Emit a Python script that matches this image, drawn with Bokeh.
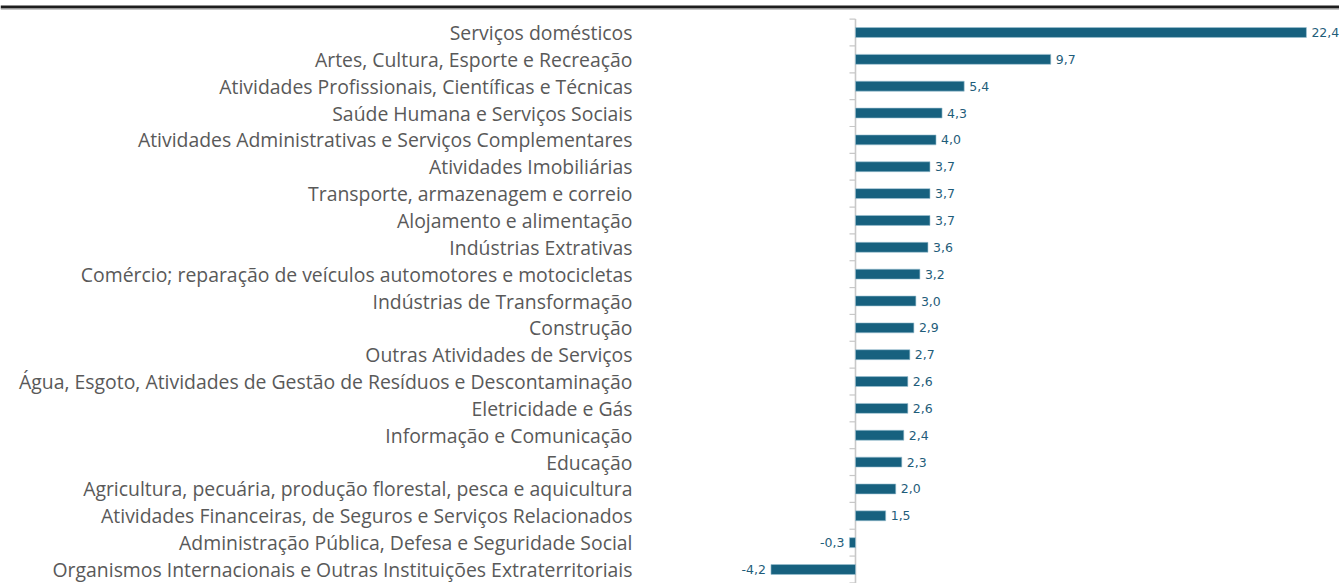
from bokeh.plotting import figure
from bokeh.models import Range1d, Span, ColumnDataSource
from bokeh.core.properties import value
from bokeh.embed import file_html
from bokeh.resources import INLINE

categories = [
    "Serviços domésticos",
    "Artes, Cultura, Esporte e Recreação",
    "Atividades Profissionais, Científicas e Técnicas",
    "Saúde Humana e Serviços Sociais",
    "Atividades Administrativas e Serviços Complementares",
    "Atividades Imobiliárias",
    "Transporte, armazenagem e correio",
    "Alojamento e alimentação",
    "Indústrias Extrativas",
    "Comércio; reparação de veículos automotores e motocicletas",
    "Indústrias de Transformação",
    "Construção",
    "Outras Atividades de Serviços",
    "Água, Esgoto, Atividades de Gestão de Resíduos e Descontaminação",
    "Eletricidade e Gás",
    "Informação e Comunicação",
    "Educação",
    "Agricultura, pecuária, produção florestal, pesca e aquicultura",
    "Atividades Financeiras, de Seguros e Serviços Relacionados",
    "Administração Pública, Defesa e Seguridade Social",
    "Organismos Internacionais e Outras Instituições Extraterritoriais",
]
values = [22.4, 9.7, 5.4, 4.3, 4.0, 3.7, 3.7, 3.7, 3.6, 3.2, 3.0, 2.9, 2.7, 2.6, 2.6, 2.4, 2.3, 2.0, 1.5, -0.3, -4.2]

W, H = 1339, 583
zero_px = 855.0          # zero line position inside the figure
px_per_unit = 20.13
row_px = 26.85
first_row_px = 32.0

x_start = -zero_px / px_per_unit
x_end = (W - zero_px) / px_per_unit
y_top = -first_row_px / row_px
y_bottom = (H - first_row_px) / row_px

n = len(categories)
idx = list(range(n))
labels = [f"{v:.1f}".replace(".", ",") for v in values]
pos_idx = [i for i in idx if values[i] >= 0]
neg_idx = [i for i in idx if values[i] < 0]

src = ColumnDataSource(dict(y=idx, v=values, cat=categories, zero=[0] * n))
src_pos = ColumnDataSource(dict(y=pos_idx, v=[values[i] for i in pos_idx], lab=[labels[i] for i in pos_idx]))
src_neg = ColumnDataSource(dict(y=neg_idx, v=[values[i] for i in neg_idx], lab=[labels[i] for i in neg_idx]))

p = figure(width=W, height=H, output_backend="svg", toolbar_location=None,
           x_range=Range1d(x_start, x_end), y_range=Range1d(y_bottom, y_top),
           min_border=0, min_border_left=0, min_border_right=0, min_border_top=0, min_border_bottom=0)
p.axis.visible = False
p.grid.visible = False
p.outline_line_color = None
p.background_fill_color = "white"
p.border_fill_color = "white"

# top rule
p.add_layout(Span(location=y_top + 6.5 / row_px, dimension="width", line_color="#1e1e1e", line_width=3.2))
p.add_layout(Span(location=y_top + 8.6 / row_px, dimension="width", line_color="#a0a0a0", line_width=1))

# axis line and ticks
bounds = [i - 0.5 for i in range(n + 1)]
tick_len = 6.0 / px_per_unit
p.segment(x0=[0] * len(bounds), y0=bounds, x1=[-tick_len] * len(bounds), y1=bounds,
          line_color="#c8c8c8", line_width=1.2)
p.segment(x0=[0], y0=[-0.5], x1=[0], y1=[n - 0.5], line_color="#c8c8c8", line_width=1.6)

# bars
p.hbar(y="y", left=0, right="v", height=0.37, source=src,
       fill_color="#17617f", line_color="#9ec3d3", line_width=0.6)

# value labels
p.text(x="v", y="y", text="lab", source=src_pos, x_offset=5, text_baseline="middle",
       text_align="left", text_font=value("DejaVu Sans"), text_font_size="12.5px",
       text_color="#1f5d7a")
p.text(x="v", y="y", text="lab", source=src_neg, x_offset=-5, text_baseline="middle",
       text_align="right", text_font=value("DejaVu Sans"), text_font_size="12.5px",
       text_color="#1f5d7a")

# category labels
p.text(x="zero", y="y", text="cat", source=src, x_offset=-223, y_offset=0,
       text_baseline="middle", text_align="right", text_font=value("Open Sans"),
       text_font_size="19.4px", text_color="#595959")

open("out.html", "w").write(file_html(p, INLINE))
